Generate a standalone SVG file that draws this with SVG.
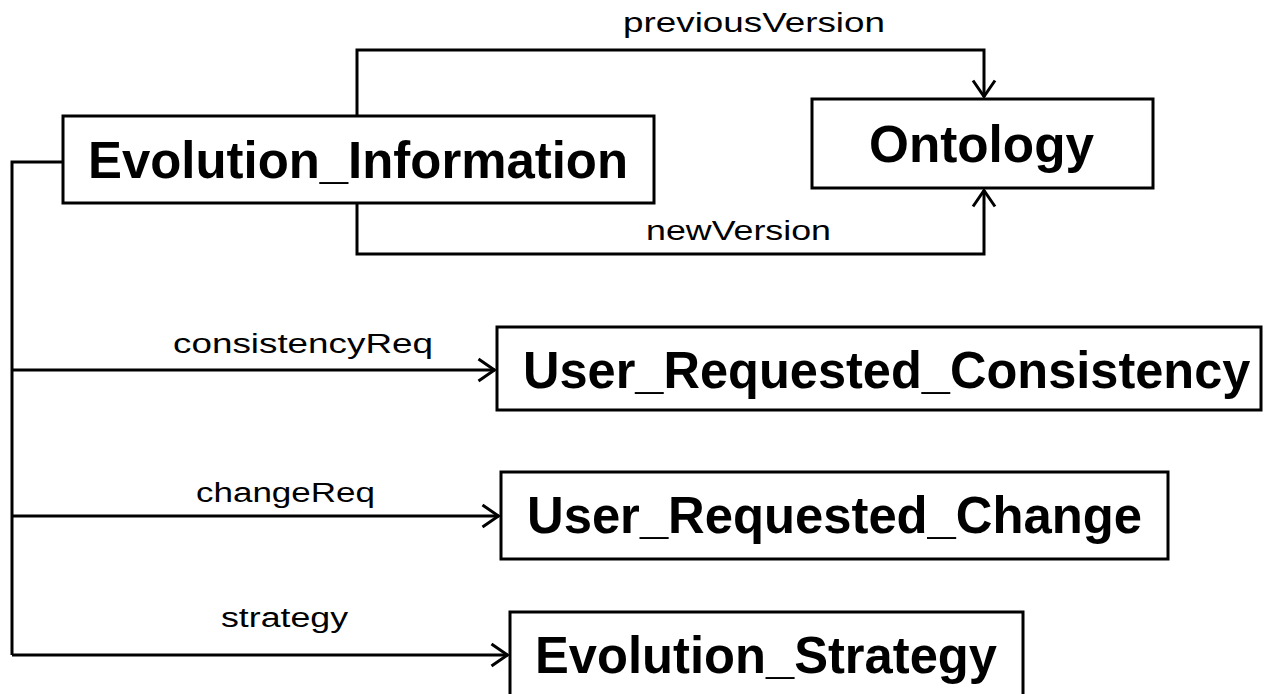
<svg xmlns="http://www.w3.org/2000/svg" width="1265" height="694" viewBox="0 0 1265 694">
<style>
.box{fill:#fff;stroke:#000;stroke-width:3}
.lbl{font-family:"Liberation Sans",Arial,sans-serif;font-weight:bold;font-size:52px;fill:#000}
.edge{font-family:"Liberation Sans",Arial,sans-serif;font-size:27px;fill:#000}
.conn{fill:none;stroke:#000;stroke-width:3}
</style>
<defs>
<marker id="arr" markerUnits="userSpaceOnUse" viewBox="0 0 19 26" refX="18" refY="13" markerWidth="19" markerHeight="26" orient="auto">
<path d="M1.5,2 L17.5,13 L1.5,24" fill="none" stroke="#000" stroke-width="3"/>
</marker>
</defs>
<rect width="1265" height="694" fill="#fff"/>
<g id="connectors">
<path class="conn" d="M63,162 H12 V655"/>
<path class="conn" d="M12,370 H495" marker-end="url(#arr)"/>
<path class="conn" d="M12,516 H499" marker-end="url(#arr)"/>
<path class="conn" d="M12,655 H508" marker-end="url(#arr)"/>
<path class="conn" d="M357,116 V50 H984 V97" marker-end="url(#arr)"/>
<path class="conn" d="M357,203 V254 H984 V190" marker-end="url(#arr)"/>
<text class="edge" x="623" y="32" textLength="262" lengthAdjust="spacingAndGlyphs">previousVersion</text>
<text class="edge" x="646" y="240" textLength="185" lengthAdjust="spacingAndGlyphs">newVersion</text>
<text class="edge" x="173" y="353" textLength="260" lengthAdjust="spacingAndGlyphs">consistencyReq</text>
<text class="edge" x="196" y="502" textLength="179" lengthAdjust="spacingAndGlyphs">changeReq</text>
<text class="edge" x="221" y="627" textLength="127" lengthAdjust="spacingAndGlyphs">strategy</text>
</g>
<g id="evolution_information">
<rect class="box" x="63" y="116" width="591" height="87"/>
<text class="lbl" x="88" y="178" textLength="540" lengthAdjust="spacingAndGlyphs">Evolution_Information</text>
</g>
<g id="ontology">
<rect class="box" x="812" y="99" width="341" height="89"/>
<text class="lbl" x="869" y="162" textLength="225" lengthAdjust="spacingAndGlyphs">Ontology</text>
</g>
<g id="user_requested_consistency">
<rect class="box" x="497" y="327" width="764" height="83"/>
<text class="lbl" x="0" y="0" transform="matrix(0.972 0 0 1 523 388)">User_Requested_Consistency</text>
</g>
<g id="user_requested_change">
<rect class="box" x="501" y="472" width="667" height="87"/>
<text class="lbl" x="527" y="533" textLength="615" lengthAdjust="spacingAndGlyphs">User_Requested_Change</text>
</g>
<g id="evolution_strategy">
<rect class="box" x="510" y="612" width="513" height="100"/>
<text class="lbl" x="535" y="673" textLength="462" lengthAdjust="spacingAndGlyphs">Evolution_Strategy</text>
</g>
</svg>
